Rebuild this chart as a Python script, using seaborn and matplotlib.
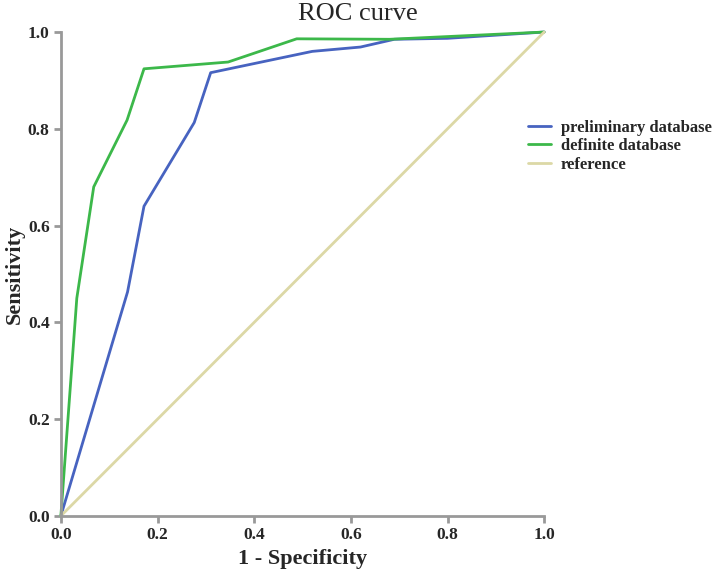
import pandas as pd
import matplotlib.pyplot as plt
import seaborn as sns

# ROC points
prelim_fpr = [0.0, 0.138, 0.172, 0.276, 0.310, 0.520, 0.620, 0.690, 0.800, 1.0]
prelim_tpr = [0.0, 0.463, 0.640, 0.813, 0.916, 0.960, 0.969, 0.985, 0.987, 1.0]

definite_fpr = [0.0, 0.033, 0.068, 0.137, 0.172, 0.346, 0.488, 0.680, 1.0]
definite_tpr = [0.0, 0.450, 0.680, 0.818, 0.924, 0.938, 0.986, 0.985, 1.0]

ref_fpr = [0.0, 1.0]
ref_tpr = [0.0, 1.0]

series_names = ['preliminary database', 'definite database', 'reference']
series_colors = ['#4763c0', '#3cb84a', '#dcd8a6']

df = pd.concat([
    pd.DataFrame({'fpr': prelim_fpr, 'tpr': prelim_tpr, 'series': series_names[0]}),
    pd.DataFrame({'fpr': definite_fpr, 'tpr': definite_tpr, 'series': series_names[1]}),
    pd.DataFrame({'fpr': ref_fpr, 'tpr': ref_tpr, 'series': series_names[2]}),
])

sns.set_style("white")
plt.rcParams['font.family'] = ['Liberation Serif', 'DejaVu Serif']

fig = plt.figure(figsize=(7.16, 5.72), dpi=100)
ax = fig.add_axes([0.085, 0.098, 0.675, 0.846])

sns.lineplot(data=df, x='fpr', y='tpr', hue='series', hue_order=series_names,
             palette=series_colors, sort=False, estimator=None, linewidth=2,
             ax=ax, clip_on=False)

ax.set_xlim(0, 1)
ax.set_ylim(0, 1)
ticks = [0.0, 0.2, 0.4, 0.6, 0.8, 1.0]
ax.set_xticks(ticks)
ax.set_yticks(ticks)
ax.set_xticklabels([f'{t:.1f}' for t in ticks], fontweight='bold', fontsize=12.5)
ax.set_yticklabels([f'{t:.1f}' for t in ticks], fontweight='bold', fontsize=12.5)
ax.tick_params(bottom=True, left=True, direction='out', length=5, width=2,
               color='#999999', pad=3)

sns.despine(ax=ax)
for s in ['left', 'bottom']:
    ax.spines[s].set_color('#999999')
    ax.spines[s].set_linewidth(2)

ax.set_xlabel('1 - Specificity', fontweight='bold', fontsize=16, labelpad=4)
ax.set_ylabel('Sensitivity', fontweight='bold', fontsize=16, labelpad=2)
fig.text(0.5, 0.975, 'ROC curve', ha='center', va='center', fontsize=19)

ax.legend(loc='upper left', bbox_to_anchor=(0.935, 0.85), frameon=False,
          prop={'weight': 'bold', 'size': 12}, handlelength=1.4,
          handletextpad=0.6, labelspacing=0.15)

fig.savefig('out.png', dpi=100)
